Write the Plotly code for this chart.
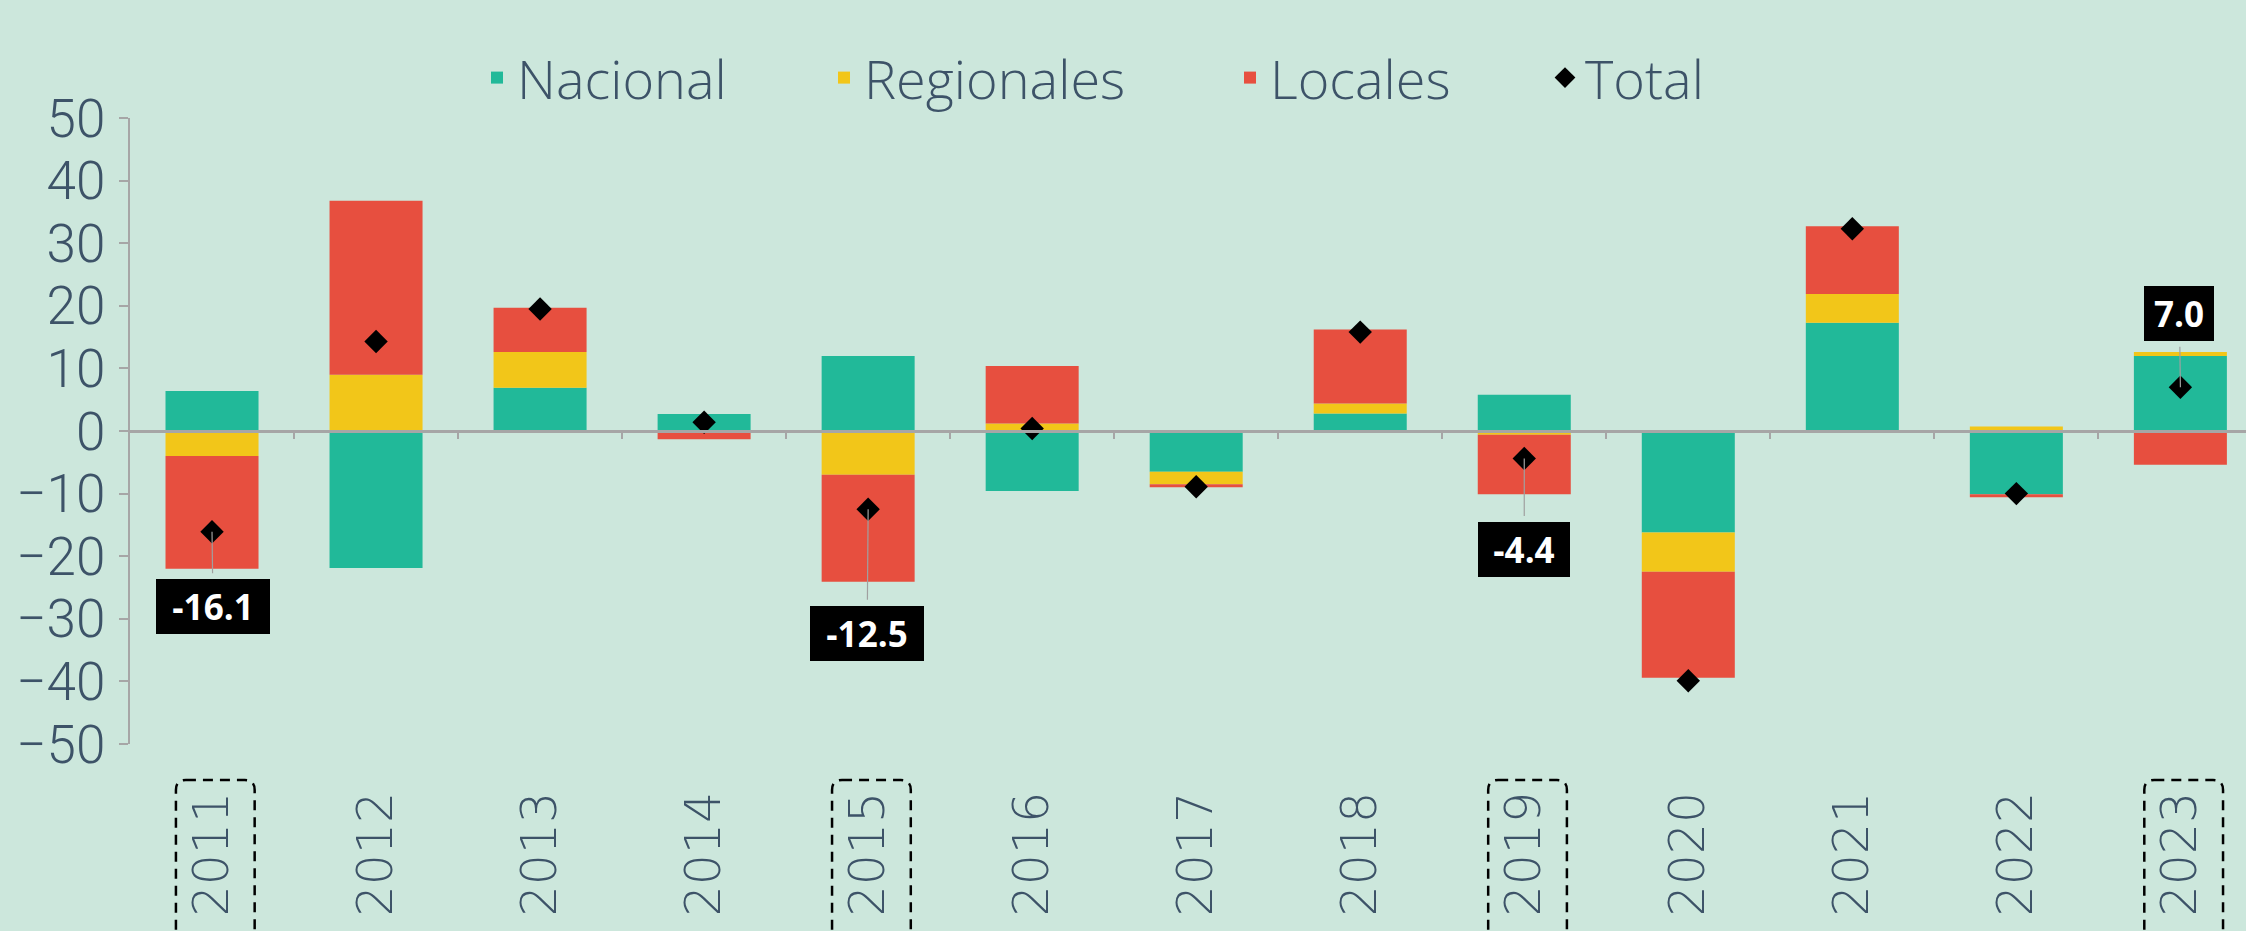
import plotly.graph_objects as go

years = ["2011", "2012", "2013", "2014", "2015", "2016", "2017",
         "2018", "2019", "2020", "2021", "2022", "2023"]
nacional = [6.4, -21.9, 6.9, 2.7, 12.0, -9.6, -6.5, 2.8, 5.8, -16.2, 17.3, -10.1, 12.0]
regionales = [-4.0, 9.0, 5.7, 0.0, -7.0, 1.2, -2.0, 1.6, -0.6, -6.3, 4.6, 0.7, 0.6]
locales = [-18.0, 27.8, 7.1, -1.3, -17.1, 9.2, -0.5, 11.8, -9.5, -16.9, 10.8, -0.5, -5.4]
total = [-16.1, 14.3, 19.5, 1.4, -12.5, 0.4, -8.9, 15.8, -4.4, -39.9, 32.3, -10.0, 7.0]
highlight = ["2011", "2015", "2019", "2023"]
y_ticks = [50, 40, 30, 20, 10, 0, -10, -20, -30, -40, -50]

BG = "#cce7dc"
TXT = "#3d5368"
GRAY = "#a6a6a6"
COL = {"Nacional": "#21b999", "Regionales": "#f2c619", "Locales": "#e74f3f"}

W, H = 2246, 931
ML, MT, MB = 130, 118, 187
XMAX = 12.4

fig = go.Figure()
for i, (name, vals) in enumerate([("Nacional", nacional), ("Regionales", regionales), ("Locales", locales)]):
    fig.add_trace(go.Bar(
        x=years, y=vals, name=name, marker=dict(color=COL[name], line=dict(width=0)),
        legend="legend" if i == 0 else f"legend{i+1}", xaxis="x", yaxis="y",
    ))

idx = list(range(len(years)))
fig.add_trace(go.Scatter(
    x=idx, y=total, name="Total", mode="markers",
    marker=dict(symbol="diamond", size=18, color="black"),
    xaxis="x2", yaxis="y", legend="legend4",
))

# annotations for highlighted totals
ann_offsets = {"2011": (1, 75), "2015": (-1, 124), "2019": (0, 91), "2023": (-1, -74)}
for yr in highlight:
    i = years.index(yr)
    txt = f"{total[i]:.1f}"
    ax, ay = ann_offsets[yr]
    fig.add_annotation(
        x=i, y=total[i], xref="x2", yref="y", text=txt,
        showarrow=True, arrowhead=0, arrowwidth=1.2, arrowcolor="#a0a0a0",
        ax=ax, ay=ay, standoff=0, startstandoff=6,
        bgcolor="black", borderpad=4, borderwidth=0,
        width=22 * len(txt) - 4, height=47,
        font=dict(family="Open Sans", size=35, color="white", weight="bold"),
    )

# dashed rounded boxes around highlighted x labels
plot_h = H - MT - MB
y_top = -(780 - (H - MB)) / plot_h
y_bot = -(940 - (H - MB)) / plot_h
rx, ry = 10 / 164.0, 10 / plot_h
for yr in highlight:
    i = years.index(yr)
    x0, x1 = i - 0.22, i + 0.26
    path = (f"M{x0+rx},{y_top} L{x1-rx},{y_top} Q{x1},{y_top} {x1},{y_top-ry} "
            f"L{x1},{y_bot+ry} Q{x1},{y_bot} {x1-rx},{y_bot} L{x0+rx},{y_bot} "
            f"Q{x0},{y_bot} {x0},{y_bot+ry} L{x0},{y_top-ry} Q{x0},{y_top} {x0+rx},{y_top} Z")
    fig.add_shape(type="path", path=path, xref="x2", yref="paper",
                  line=dict(color="black", width=2.5, dash="10px,7px"), layer="above")

legfont = dict(family="Open Sans", size=54, color=TXT, weight=300)
leg_x = [477, 824, 1230, 1545]
leg_names = ["legend", "legend2", "legend3", "legend4"]
leg_layout = {}
for name, px in zip(leg_names, leg_x):
    leg_layout[name] = dict(
        xref="container", yref="container", x=px / W, y=1 - 78 / H,
        xanchor="left", yanchor="middle", orientation="h",
        font=legfont, bgcolor="rgba(0,0,0,0)", borderwidth=0,
    )

fig.update_layout(
    width=W, height=H,
    margin=dict(l=ML, r=0, t=MT, b=MB, pad=0, autoexpand=False),
    paper_bgcolor=BG, plot_bgcolor=BG,
    barmode="relative", bargap=0.433,
    showlegend=True,
    xaxis=dict(
        type="category", range=[-0.5, XMAX], showline=False, showgrid=False,
        zeroline=False, ticks="", tickangle=-90, automargin=False,
        tickfont=dict(family="DejaVu Sans", size=49, color=TXT, weight=200),
        ticklabelstandoff=37,
    ),
    xaxis2=dict(
        overlaying="x", anchor="free", position=0.5, range=[-0.5, XMAX],
        showline=True, linecolor=GRAY, linewidth=3, showgrid=False, zeroline=False,
        ticks="outside", tickvals=[i + 0.5 for i in idx], ticklen=6, tickwidth=2,
        tickcolor=GRAY, showticklabels=False, automargin=False,
    ),
    yaxis=dict(
        range=[-50, 50], tickvals=y_ticks, showline=True, linecolor=GRAY, linewidth=2,
        ticks="outside", ticklen=9, tickwidth=2, tickcolor=GRAY,
        showgrid=False, zeroline=False, automargin=False,
        tickfont=dict(family="Roboto", size=53, color=TXT, weight=300),
        ticklabelstandoff=3,
    ),
    **leg_layout,
)

fig.write_html("out.html")
